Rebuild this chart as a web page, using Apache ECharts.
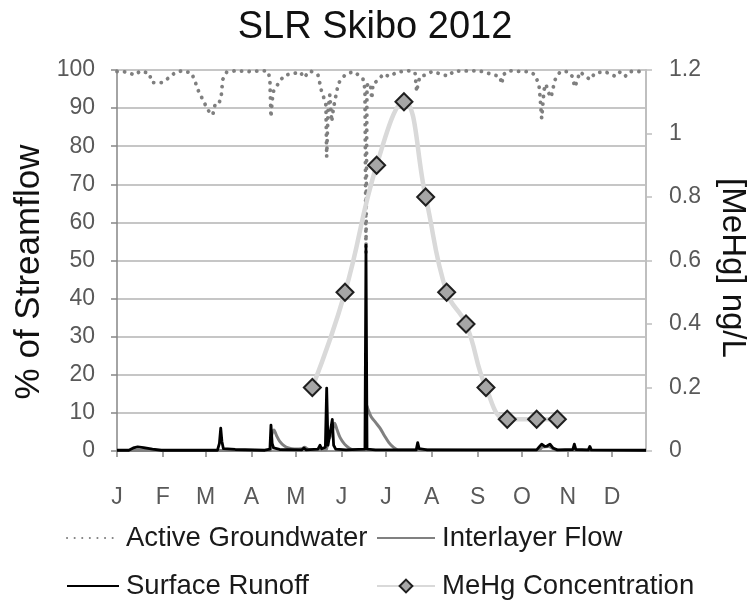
<!DOCTYPE html>
<html>
<head>
<meta charset="utf-8">
<script src="https://cdn.jsdelivr.net/npm/echarts@6/dist/echarts.min.js"></script>
<style>
html,body{margin:0;padding:0;background:#fff;}
#chart{width:755px;height:601px;}
</style>
</head>
<body>
<div id="chart"></div>
<script>
// ---- data (x = day of year 2012, 0 = Jan 1) ----
var monthStarts = [0, 31, 60, 91, 121, 152, 182, 213, 244, 274, 305, 335];
var monthLabels = ['J', 'F', 'M', 'A', 'M', 'J', 'J', 'A', 'S', 'O', 'N', 'D'];
var leftTicks = [0, 10, 20, 30, 40, 50, 60, 70, 80, 90, 100];
var rightTicks = [0, 0.2, 0.4, 0.6, 0.8, 1, 1.2];

var activeGroundwater = [
  [0,99.6],[4.3,99.6],[8,99.2],[12.2,98.7],[15.6,99.7],[21.7,99.2],[23.7,96.7],[27,96.7],[30.5,96.7],
  [34.5,97.8],[39.3,99.3],[44,99.8],[50.5,99.2],[52.8,97],[55.5,94.1],[58.4,92],[61.4,89.5],[64.8,88.2],
  [66.3,90.8],[68.4,90.8],[70.4,92.6],[71,95.2],[71.7,97.6],[74.2,99.4],[80,99.8],[90,99.6],[100,99.8],
  [102.5,99.5],[103.5,97],[104.2,87.6],[105,92],[106,94.5],[107.5,95.4],[110.3,97.2],[113.7,98.7],[119,99],
  [124,99.5],[126.5,98],[130.6,99.8],[136,98.7],[137.4,96.3],[138.7,93.9],[140.1,92.6],[141.4,90.8],
  [141.9,77.2],[142.8,89],[144,93.5],[145.3,86.4],[146.5,90],[148,93],[149.8,96.5],[154.3,98.7],
  [159.7,99.6],[162.4,99],[166.5,97.6],[167.8,95],[168.5,52],[169.2,96],[171.5,96.5],[172.4,92.4],
  [173.3,96.5],[175.7,97],[180.5,99],[184,98.3],[190,99.5],[198,99.8],[201.7,99.3],[202.8,94.3],
  [203.7,96.3],[205,98.3],[209,98.7],[213.2,99.6],[218.6,99],[224,98.4],[228,99.7],[245,99.8],
  [259,98.3],[260.5,96.3],[261.2,98.7],[265,99.8],[279.5,99.5],[283,98.7],[285.6,96],[286.3,93],
  [287.4,87.3],[289,94.8],[290.3,96.3],[291.7,94.3],[293.7,92.8],[296.4,97.4],[299.8,99.5],[305,99.6],
  [307.9,98.4],[309.9,95.5],[313.3,99.5],[320.1,97.5],[323.5,99.2],[330,99.6],[337,98.4],[340,99.5],
  [343.8,98.3],[347,99.6],[358,99.6]
];

var interlayerFlow = [
  [0,0.1],[103.8,0.1],[104.6,4],[106.2,5.5],[108,4],[110,2.6],[113,1.4],[116,0.8],[120,0.5],[125,0.6],
  [127,1],[129,0.5],[133,0.3],[141.5,0.3],[142.5,3],[144,3.5],[145.5,5],[147.3,7.3],[149,5.5],[151,3.5],
  [154,1.8],[157,0.8],[160,0.3],[168.3,0.3],[169,12],[170,10.8],[172,9],[175,7.5],[178,6],[181,4],
  [184,2.2],[187,1],[190,0.3],[285,0.2],[288,1],[292,1.2],[296,0.4],[300,0.1],[358,0.1]
];

var surfaceRunoff = [
  [0,0.2],[8,0.2],[11,0.8],[14,1.1],[18,0.9],[24,0.5],[30,0.2],[68,0.2],[69.3,2],[70.2,6],[71,2.5],
  [72,0.6],[80,0.4],[100,0.2],[103.5,0.5],[104.2,6.8],[105,2],[106,0.8],[110,0.4],[125,0.3],[126.5,0.8],
  [128,0.3],[136,0.5],[137.4,1.5],[138.5,0.6],[141,1],[141.9,16.5],[142.8,1.5],[144,1],[145.7,8.3],
  [146.6,1.5],[148,0.5],[155,0.3],[167.8,0.5],[168.5,54],[169.2,0.5],[175,0.3],[202.5,0.3],[203.5,2.2],
  [204.5,0.6],[210,0.3],[284,0.3],[286,1.2],[287.4,1.8],[289.5,1.2],[291,1.3],[293,1.8],[295,0.8],
  [298,0.3],[308.5,0.4],[309.5,1.8],[310.5,0.4],[319,0.3],[320,1.2],[321,0.3],[358,0.2]
];

var mehgConcentration = [
  [132.2,0.2],[154.3,0.5],[175.7,0.9],[194.2,1.1],[208.9,0.8],[223.1,0.5],[236.2,0.4],[249.7,0.2],
  [264.1,0.1],[284,0.1],[298,0.1]
];

var FONT = '"Liberation Sans", Arial, sans-serif';
var chart = echarts.init(document.getElementById('chart'), null, {renderer: 'canvas'});

function legendAt(name, left, top, w, hideSymbol) {
  var item = {name: name};
  if (hideSymbol) item.itemStyle = {opacity: 0};
  return {
    data: [item], left: left, top: top, itemWidth: w, itemHeight: 16, padding: 0,
    textStyle: {fontFamily: FONT, fontSize: 27.5, color: '#1a1a1a', padding: [0, 0, 0, 2]},
    selectedMode: false
  };
}

chart.setOption({
  animation: false,
  backgroundColor: '#ffffff',
  grid: {left: 117, right: 109, top: 70, bottom: 150, containLabel: false},
  graphic: [
    {type: 'text', x: 375, y: 28, style: {text: 'SLR Skibo 2012', font: '38px ' + FONT, fill: '#111',
      textAlign: 'center', textVerticalAlign: 'middle', align: 'center', verticalAlign: 'middle'}},
    {type: 'text', x: 29, y: 272, rotation: Math.PI / 2, style: {text: '% of Streamflow', font: '35px ' + FONT, fill: '#111',
      textAlign: 'center', textVerticalAlign: 'middle', align: 'center', verticalAlign: 'middle'}},
    {type: 'text', x: 732, y: 268, rotation: -Math.PI / 2, style: {text: '[MeHg] ng/L', font: '33px ' + FONT, fill: '#111',
      textAlign: 'center', textVerticalAlign: 'middle', align: 'center', verticalAlign: 'middle'}}
  ],
  legend: [
    legendAt('Active Groundwater', 66, 524, 52, true),
    legendAt('Interlayer Flow', 376, 524, 58, true),
    legendAt('Surface Runoff', 66, 572, 52, true),
    legendAt('MeHg Concentration', 376, 572, 58, false)
  ],
  xAxis: {
    type: 'value', min: 0, max: 358,
    axisLine: {show: true, onZero: false, lineStyle: {color: '#868686', width: 1.5}},
    axisTick: {show: true, length: 6, customValues: monthStarts, lineStyle: {color: '#868686', width: 1.5}},
    axisLabel: {customValues: monthStarts, margin: 35, fontFamily: FONT, fontSize: 23, color: '#595959',
      formatter: function (v) { var i = monthStarts.indexOf(v); return i >= 0 ? monthLabels[i] : ''; }},
    splitLine: {show: false}
  },
  yAxis: [
    {
      type: 'value', min: leftTicks[0], max: leftTicks[leftTicks.length - 1], interval: 10,
      axisLine: {show: true, lineStyle: {color: '#868686', width: 1.5}},
      axisTick: {show: true, length: 6, lineStyle: {color: '#868686', width: 1.5}},
      axisLabel: {margin: 22, fontFamily: FONT, fontSize: 23, color: '#595959'},
      splitLine: {show: true, lineStyle: {color: '#b3b3b3', width: 1.5}}
    },
    {
      type: 'value', min: rightTicks[0], max: rightTicks[rightTicks.length - 1], interval: 0.2,
      position: 'right',
      axisLine: {show: true, lineStyle: {color: '#bfbfbf', width: 2}},
      axisTick: {show: true, length: 6, lineStyle: {color: '#bfbfbf', width: 1.5}},
      axisLabel: {margin: 23, fontFamily: FONT, fontSize: 23, color: '#595959',
        formatter: function (v) { return String(Math.round(v * 10) / 10); }},
      splitLine: {show: false}
    }
  ],
  series: [
    {
      name: 'Active Groundwater', type: 'line', yAxisIndex: 0, data: activeGroundwater,
      symbol: 'none', showSymbol: false, clip: true,
      lineStyle: {color: '#7f7f7f', width: 3.8, type: [0.1, 7.5], cap: 'round'},
      itemStyle: {color: '#7f7f7f'}, z: 2
    },
    {
      name: 'Interlayer Flow', type: 'line', yAxisIndex: 0, data: interlayerFlow,
      symbol: 'none', showSymbol: false, smooth: 0.3,
      lineStyle: {color: '#808080', width: 3},
      itemStyle: {color: '#808080'}, z: 3
    },
    {
      name: 'Surface Runoff', type: 'line', yAxisIndex: 0, data: surfaceRunoff,
      symbol: 'none', showSymbol: false,
      lineStyle: {color: '#000000', width: 2.8, join: 'round'},
      itemStyle: {color: '#000000'}, z: 4
    },
    {
      name: 'MeHg Concentration', type: 'line', yAxisIndex: 1, data: mehgConcentration,
      smooth: 0.45, symbol: 'diamond', symbolSize: 17, showSymbol: true,
      lineStyle: {color: '#d9d9d9', width: 4.5},
      itemStyle: {color: '#a6a6a6', borderColor: '#1f1f1f', borderWidth: 2},
      z: 5
    }
  ]
});
</script>
</body>
</html>
